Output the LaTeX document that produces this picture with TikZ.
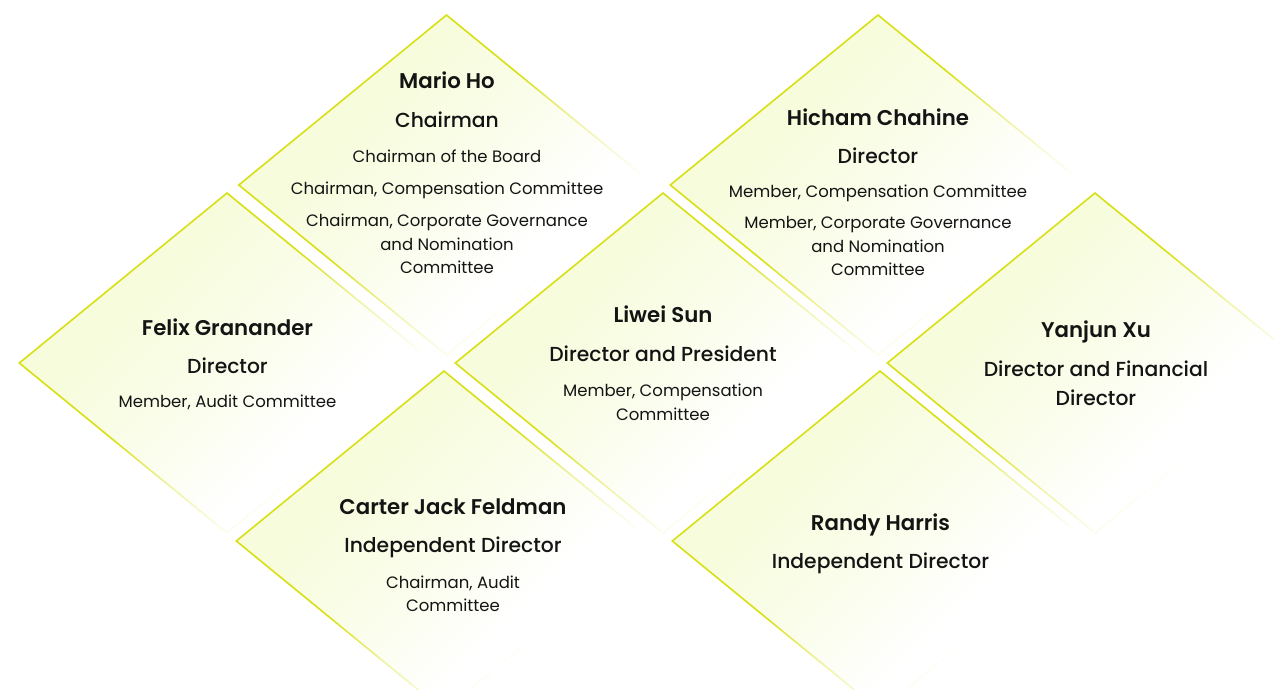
\documentclass[tikz,border=0pt]{standalone}
\usepackage{fontspec}
\setmainfont{Poppins}
\newfontfamily\psemi{Poppins SemiBold}
\newfontfamily\pmed{Poppins Medium}
\usetikzlibrary{shapes.geometric}
\definecolor{fillc}{RGB}{247,252,221}
\definecolor{borderc}{RGB}{216,224,24}
\definecolor{txt}{RGB}{20,20,20}
\pgfdeclareverticalshading{dfill}{100bp}{color(0bp)=(white); color(36bp)=(white); color(50bp)=(fillc!60!white); color(64bp)=(fillc); color(100bp)=(fillc)}
\pgfdeclareverticalshading{dborder}{100bp}{color(0bp)=(white); color(32bp)=(white); color(44bp)=(borderc!40!white); color(54bp)=(borderc); color(100bp)=(borderc)}
\tikzset{
  dout/.style={diamond, inner sep=0pt, outer sep=0pt, minimum width=418pt, minimum height=342pt, shading=dborder, shading angle=45},
  din/.style={diamond, inner sep=0pt, outer sep=0pt, minimum width=412.3pt, minimum height=337.4pt, shading=dfill, shading angle=45},
  nm/.style={anchor=base, inner sep=0pt, text=txt, font=\fontsize{21.3}{24}\psemi},
  ttl/.style={anchor=base, inner sep=0pt, text=txt, font=\fontsize{20.3}{23}\pmed},
  sm/.style={anchor=base, inner sep=0pt, text=txt, font=\fontsize{16.5}{20}\selectfont},
}
\begin{document}
\begin{tikzpicture}[x=1pt,y=-1pt]
\useasboundingbox (0,0) rectangle (1274,690);
\clip (0,0) rectangle (1274,690);
% diamonds
\foreach \n/\cx/\cy in {mario/446.5/185, hicham/878/185, felix/227/363, liwei/663/363, yanjun/1095/363, carter/444/541, randy/880/541}{
  \node[dout] (\n o) at (\cx,\cy) {};
  \node[din] (\n i) at (\cx,\cy) {};
}
% Mario Ho
\node[nm]  (m1) at (447,89) {Mario Ho};
\node[ttl] (m2) at (447,128) {Chairman};
\node[sm]  (m3) at (447,162) {Chairman of the Board};
\node[sm]  (m4) at (447,194) {Chairman, Compensation Committee};
\node[sm]  (m5) at (447,226) {Chairman, Corporate Governance};
\node[sm]  (m6) at (447,250) {and Nomination};
\node[sm]  (m7) at (447,273) {Committee};
% Hicham Chahine
\node[nm]  (h1) at (878,125) {Hicham Chahine};
\node[ttl] (h2) at (878,163) {Director};
\node[sm]  (h3) at (878,197) {Member, Compensation Committee};
\node[sm]  (h4) at (878,228) {Member, Corporate Governance};
\node[sm]  (h5) at (878,252) {and Nomination};
\node[sm]  (h6) at (878,275) {Committee};
% Felix Granander
\node[nm]  (f1) at (227.5,335) {Felix Granander};
\node[ttl] (f2) at (227.5,373) {Director};
\node[sm]  (f3) at (227.5,407) {Member, Audit Committee};
% Liwei Sun
\node[nm]  (l1) at (663,322) {Liwei Sun};
\node[ttl] (l2) at (663,361) {Director and President};
\node[sm]  (l3) at (663,396) {Member, Compensation};
\node[sm]  (l4) at (663,420) {Committee};
% Yanjun Xu
\node[nm]  (y1) at (1096,337) {Yanjun Xu};
\node[ttl] (y2) at (1096,376) {Director and Financial};
\node[ttl] (y3) at (1096,405) {Director};
% Carter Jack Feldman
\node[nm]  (c1) at (453,514) {Carter Jack Feldman};
\node[ttl] (c2) at (453,552) {Independent Director};
\node[sm]  (c3) at (453,588) {Chairman, Audit};
\node[sm]  (c4) at (453,611) {Committee};
% Randy Harris
\node[nm]  (r1) at (880.5,530) {Randy Harris};
\node[ttl] (r2) at (880.5,568) {Independent Director};
\end{tikzpicture}
\end{document}
